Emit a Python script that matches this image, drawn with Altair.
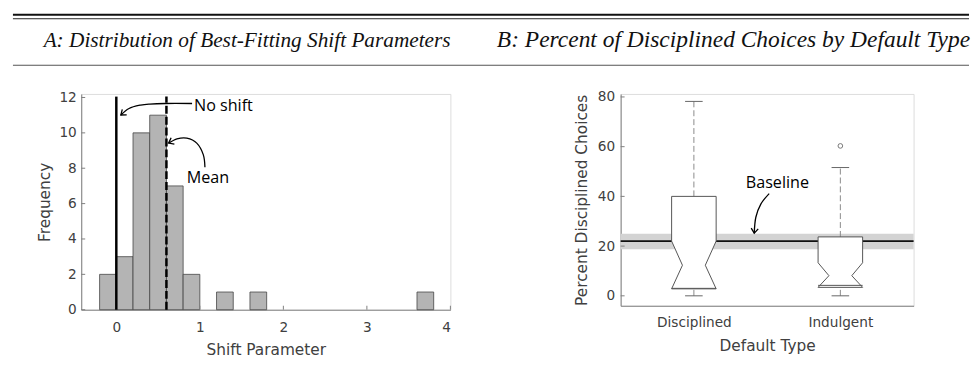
import altair as alt
import pandas as pd

# ---------------- data ----------------
title_a = "A: Distribution of Best-Fitting Shift Parameters"
title_b = "B: Percent of Disciplined Choices by Default Type"

bin_start = [-0.2, 0.0, 0.2, 0.4, 0.6, 0.8, 1.0, 1.2, 1.4, 1.6, 1.8, 2.0, 2.2, 2.4, 2.6, 2.8, 3.0, 3.2, 3.4, 3.6]
counts = [2, 3, 10, 11, 7, 2, 0, 1, 0, 1, 0, 0, 0, 0, 0, 0, 0, 0, 0, 1]
bin_width = 0.2
no_shift_x = 0.0
mean_shift = 0.6

a_x_ticks = [0, 1, 2, 3, 4]
a_y_ticks = [0, 2, 4, 6, 8, 10, 12]

# annotation anchors (data units of panel A)
noshift_label = ("No shift", 0.93, 11.53)
noshift_path_x = [0.907, 0.587, 0.40, 0.291, 0.152, 0.054]
noshift_path_y = [11.66, 11.66, 11.63, 11.57, 11.38, 11.01]
mean_label = ("Mean", 0.844, 7.46)
mean_path_x = [1.061, 1.041, 0.963, 0.844, 0.726, 0.626]
mean_path_y = [8.06, 8.77, 9.42, 9.70, 9.66, 9.42]

categories = ["Disciplined", "Indulgent"]
positions = [1, 2]
q1 = [3.0, 4.2]
q3 = [40.0, 23.7]
median = [12.3, 8.1]
notch_lo = [2.8, 3.4]
notch_hi = [22.0, 13.3]
whisk_lo = [0.0, 0.0]
whisk_hi = [78.2, 51.6]
outlier_pos = [2]
outlier_val = [60.3]
baseline_mean = 22.0
baseline_lo = 18.7
baseline_hi = 25.0
b_y_ticks = [0, 20, 40, 60, 80]

baseline_label = ("Baseline", 1.57, 45.5)
baseline_path_x = [1.514, 1.457, 1.423, 1.412]
baseline_path_y = [41.1, 36.9, 31.6, 25.2]

# ---------------- style ----------------
SANS = "DejaVu Sans"
ANN = "Open Sans"
AX_COL = "#808080"
LAB_COL = "#404040"
WA, HA = 373, 218
WB, HB = 296, 214

ARROW = "M-1,-0.75L0,0L-1,0.75"

def axis(title, values, **kw):
    return alt.Axis(title=title, values=values, tickSize=0, grid=False,
                    domainColor=AX_COL, domainWidth=1,
                    labelFont=SANS, labelFontSize=13.8, labelColor=LAB_COL,
                    titleFont=SANS, titleFontSize=15.5, titleFontWeight="normal",
                    titleColor=LAB_COL, **kw)

xa_scale = alt.Scale(domain=[-0.42, 4.0], nice=False, zero=False)
ya_scale = alt.Scale(domain=[0, 12.2], nice=False, zero=False)
xa_axis = axis("Shift Parameter", a_x_ticks, labelPadding=11, titlePadding=8, format="d")
ya_axis = axis("Frequency", a_y_ticks, labelPadding=5, titlePadding=7, format="d")

def XA(f):
    return alt.X(f, scale=xa_scale, axis=xa_axis)

def YA(f):
    return alt.Y(f, scale=ya_scale, axis=ya_axis)

one = pd.DataFrame({"k": [0]})

# ---------------- header (drawn in panel A's frame) ----------------
rule_top = alt.Chart(one).mark_rule(color="#111", strokeWidth=2).encode(
    x=alt.value(-69), x2=alt.value(897), y=alt.value(-80))
rule_top2 = alt.Chart(one).mark_rule(color="#222", strokeWidth=1).encode(
    x=alt.value(-69), x2=alt.value(897), y=alt.value(-76))
rule_bot = alt.Chart(one).mark_rule(color="#555", strokeWidth=1.2).encode(
    x=alt.value(-69), x2=alt.value(897), y=alt.value(-29))
head_a = alt.Chart(pd.DataFrame({"t": [title_a]})).mark_text(
    align="left", baseline="alphabetic", font="Liberation Serif", fontStyle="italic",
    fontSize=21.5, color="#111").encode(text="t:N", x=alt.value(-38), y=alt.value(-47))
head_b = alt.Chart(pd.DataFrame({"t": [title_b]})).mark_text(
    align="center", baseline="alphabetic", font="Liberation Serif", fontStyle="italic",
    fontSize=23.7, color="#111").encode(text="t:N", x=alt.value(659), y=alt.value(-47))

# ---------------- panel A ----------------
hist = pd.DataFrame({"lo": bin_start, "n": counts})
bars = alt.Chart(hist).transform_filter("datum.n > 0").transform_calculate(
    hi=f"datum.lo + {bin_width}", base="0").mark_rect(
    fill="#b4b4b4", stroke="#444", strokeWidth=0.8).encode(
    x=XA("lo:Q"), x2="hi:Q", y=YA("n:Q"), y2="base:Q")

ticks_ya = alt.Chart(pd.DataFrame({"v": a_y_ticks})).mark_rule(color=AX_COL).encode(
    y=YA("v:Q"), x=alt.value(0), x2=alt.value(4))
ticks_xa = alt.Chart(pd.DataFrame({"v": a_x_ticks})).mark_rule(color=AX_COL).encode(
    x=XA("v:Q"), y=alt.value(HA), y2=alt.value(HA - 4))

zero_line = alt.Chart(pd.DataFrame({"x": [no_shift_x], "b": [0.0], "top": [12.05]})).mark_rule(
    color="black", strokeWidth=2.5).encode(x=XA("x:Q"), y=YA("b:Q"), y2="top:Q")
mean_line = alt.Chart(pd.DataFrame({"x": [mean_shift], "b": [0.0], "top": [12.05]})).mark_rule(
    color="black", strokeWidth=2.5, strokeDash=[8, 3]).encode(
    x=XA("x:Q"), y=YA("b:Q"), y2="top:Q")

def ann_text(lbl, X, Y, align="left"):
    return alt.Chart(pd.DataFrame({"t": [lbl[0]], "x": [lbl[1]], "y": [lbl[2]]})).mark_text(
        align=align, baseline="middle", font=ANN, fontSize=16.3, color="black").encode(
        text="t:N", x=X("x:Q"), y=Y("y:Q"))

def ann_curve(px, py, X, Y, angle):
    d = pd.DataFrame({"x": px, "y": py, "o": list(range(len(px)))})
    curve = alt.Chart(d).mark_line(color="black", strokeWidth=1.3, interpolate="cardinal").encode(
        x=X("x:Q"), y=Y("y:Q"), order="o:Q")
    tip = alt.Chart(d.tail(1)).mark_point(shape=ARROW, filled=False, stroke="black",
                                          strokeWidth=1.3, size=90, angle=angle, opacity=1).encode(
        x=X("x:Q"), y=Y("y:Q"))
    return [curve, tip]

panel_a = alt.layer(
    rule_top, rule_top2, rule_bot, head_a, head_b,
    bars, ticks_ya, ticks_xa, zero_line, mean_line,
    ann_text(noshift_label, XA, YA),
    *ann_curve(noshift_path_x, noshift_path_y, XA, YA, 141.5),
    ann_text(mean_label, XA, YA),
    *ann_curve(mean_path_x, mean_path_y, XA, YA, 152.4),
).properties(width=WA, height=HA)

# ---------------- panel B ----------------
label_expr = " : ".join(
    [f"datum.value == {p} ? '{c}'" for p, c in zip(positions[:-1], categories[:-1])]
    + [f"'{categories[-1]}'"])
xb_scale = alt.Scale(domain=[0.5, 2.5], nice=False, zero=False)
yb_scale = alt.Scale(domain=[-4, 81.2], nice=False, zero=False)
xb_axis = axis("Default Type", positions, labelPadding=10, titlePadding=9, labelExpr=label_expr)
yb_axis = axis("Percent Disciplined Choices", b_y_ticks, labelPadding=6, titlePadding=8, format="d")

def XB(f):
    return alt.X(f, scale=xb_scale, axis=xb_axis)

def YB(f):
    return alt.Y(f, scale=yb_scale, axis=yb_axis)

BOX_HW = 0.152
NOTCH_HW = 0.078
CAP_HW = 0.06

stats = pd.DataFrame({"grp": categories, "pos": positions, "q1": q1, "q3": q3,
                      "med": median, "nlo": notch_lo, "nhi": notch_hi,
                      "wlo": whisk_lo, "whi": whisk_hi})
stats["l"] = stats["pos"] - BOX_HW
stats["r"] = stats["pos"] + BOX_HW
stats["cl"] = stats["pos"] - CAP_HW
stats["cr"] = stats["pos"] + CAP_HW

rows = []
for g, p, nlo, med, nhi, top in zip(categories, positions, notch_lo, median, notch_hi, q3):
    rows += [
        {"grp": g, "y": nlo, "xl": p - BOX_HW, "xr": p + BOX_HW},
        {"grp": g, "y": med, "xl": p - NOTCH_HW, "xr": p + NOTCH_HW},
        {"grp": g, "y": nhi, "xl": p - BOX_HW, "xr": p + BOX_HW},
        {"grp": g, "y": top, "xl": p - BOX_HW, "xr": p + BOX_HW},
    ]
outline = pd.DataFrame(rows)

band_df = pd.DataFrame({"lo": [baseline_lo], "hi": [baseline_hi], "m": [baseline_mean],
                        "x0": [0.5], "x1": [2.5]})
band = alt.Chart(band_df).mark_rect(fill="#d3d3d3").encode(
    x=XB("x0:Q"), x2="x1:Q", y=YB("lo:Q"), y2="hi:Q")
bline = alt.Chart(band_df).mark_rule(color="#111", strokeWidth=2).encode(
    x=XB("x0:Q"), x2="x1:Q", y=YB("m:Q"))

w_up = alt.Chart(stats).mark_rule(color="#8a8a8a", strokeWidth=1, strokeDash=[6, 3]).encode(
    x=XB("pos:Q"), y=YB("q3:Q"), y2="whi:Q")
w_dn = alt.Chart(stats).mark_rule(color="#8a8a8a", strokeWidth=1, strokeDash=[6, 3]).encode(
    x=XB("pos:Q"), y=YB("wlo:Q"), y2="q1:Q")
boxes = alt.Chart(outline).mark_area(orient="horizontal", fill="white", stroke="#555",
                                     strokeWidth=1, opacity=1).encode(
    y=YB("y:Q"), x=XB("xl:Q"), x2="xr:Q", detail="grp:N")
q1_line = alt.Chart(stats).mark_rule(color="#555", strokeWidth=1).encode(
    x=XB("l:Q"), x2="r:Q", y=YB("q1:Q"))
cap_up = alt.Chart(stats).mark_rule(color="#666", strokeWidth=1).encode(
    x=XB("cl:Q"), x2="cr:Q", y=YB("whi:Q"))
cap_dn = alt.Chart(stats).mark_rule(color="#666", strokeWidth=1).encode(
    x=XB("cl:Q"), x2="cr:Q", y=YB("wlo:Q"))
outl = alt.Chart(pd.DataFrame({"pos": outlier_pos, "v": outlier_val})).mark_point(
    shape="circle", filled=False, stroke="#777", strokeWidth=1, size=22, opacity=1).encode(
    x=XB("pos:Q"), y=YB("v:Q"))

ticks_yb = alt.Chart(pd.DataFrame({"v": b_y_ticks})).mark_rule(color=AX_COL).encode(
    y=YB("v:Q"), x=alt.value(0), x2=alt.value(4))

panel_b = alt.layer(
    band, bline, w_up, w_dn, boxes, q1_line, cap_up, cap_dn, outl, ticks_yb,
    ann_text(baseline_label, XB, YB, align="center"),
    *ann_curve(baseline_path_x, baseline_path_y, XB, YB, 96),
).properties(width=WB, height=HB)

chart = alt.hconcat(panel_a, panel_b, spacing=172, bounds="flush").properties(
    padding={"left": 3, "top": 3, "right": 0, "bottom": 4}
).configure_view(stroke=None).configure(background="white")

chart.save("out.html", embed_options={"renderer": "svg", "actions": False})
